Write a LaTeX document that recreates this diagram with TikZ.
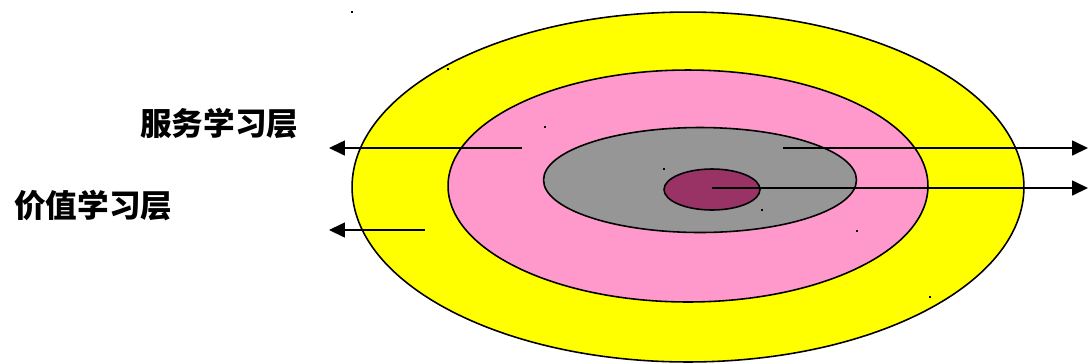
\documentclass[tikz,border=0pt]{standalone}
\usepackage{fontspec}
\newfontfamily\cjk{Noto Sans CJK SC}
\usetikzlibrary{arrows.meta,shapes.geometric}
\definecolor{outery}{HTML}{FFFF00}
\definecolor{pinkq}{HTML}{FF99CC}
\definecolor{grayq}{HTML}{969696}
\definecolor{plum}{HTML}{993366}

\tikzset{
  ring/.style={ellipse,draw=black,line width=.9pt,inner sep=0pt,outer sep=0pt},
  flow/.style={-{Triangle[length=9pt,width=8.5pt]},line width=.7pt},
  layer/.style={font=\cjk\bfseries\fontsize{18}{20}\selectfont,anchor=west,inner sep=0pt},
  speck/.style={fill=black,minimum size=1.6pt,inner sep=0pt}
}

\begin{document}
\begin{tikzpicture}[x=0.02cm,y=-0.02cm,>=Latex,line cap=butt]
  \useasboundingbox (0,0) rectangle (1088,363);

  % rings, outside in (sizes: px times 0.02cm)
  \node[ring,fill=outery,minimum width=13.44cm,minimum height=7cm] (outer) at (688,187) {};
  \node[ring,fill=pinkq,minimum width=9.6cm,minimum height=4.64cm] (mid) at (688,186) {};
  \node[ring,fill=grayq,minimum width=6.26cm,minimum height=2.1cm] (inner) at (700,180) {};
  \node[ring,fill=plum,minimum width=1.92cm,minimum height=.82cm] (core) at (712,189.5) {};

  % labels
  \node[layer] (service) at (140,124) {服务学习层};
  \node[layer] (value) at (14,206) {价值学习层};

  % arrows
  \coordinate (sL) at (522,148);
  \coordinate (sLend) at (329,148);
  \coordinate (vL) at (425,230);
  \coordinate (vLend) at (329,230);
  \coordinate (sR) at (783,148);
  \coordinate (sRend) at (1088,148);
  \coordinate (cR) at (712,188);
  \coordinate (cRend) at (1088,188);
  \draw[flow] (sL) -- (sLend);
  \draw[flow] (vL) -- (vLend);
  \draw[flow] (sR) -- (sRend);
  \draw[flow] (cR) -- (cRend);

  % stray marks
  \foreach \px/\py [count=\i] in {352/12,448/69,545/127,664/169,762/210,857/231,930/297}
    \node[speck] (mark\i) at (\px,\py) {};
\end{tikzpicture}
\end{document}
